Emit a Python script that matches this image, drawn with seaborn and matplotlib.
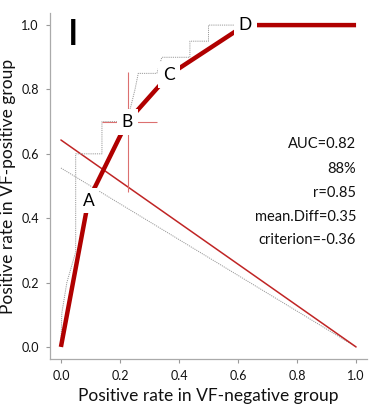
import matplotlib
matplotlib.use("Agg")
import matplotlib.pyplot as plt
import seaborn as sns
import pandas as pd
import numpy as np

sns.set_theme(style="white")
plt.rcParams['font.family'] = ['Lato', 'DejaVu Sans']

# Fitted ROC curve (thick red), points A-D
roc_fpr = [0.0, 0.093, 0.224, 0.366, 0.624, 1.0]
roc_tpr = [0.0, 0.455, 0.699, 0.845, 1.0, 1.0]
point_labels = ["A", "B", "C", "D"]
point_fpr = [0.093, 0.224, 0.366, 0.624]
point_tpr = [0.455, 0.699, 0.845, 1.0]

# Empirical ROC (gray dotted staircase)
emp_fpr = [0.0, 0.003, 0.02, 0.05, 0.05, 0.139, 0.139, 0.224, 0.251, 0.262, 0.325, 0.342, 0.437, 0.437, 0.50, 0.50, 1.0]
emp_tpr = [0.0, 0.105, 0.20, 0.295, 0.60, 0.60, 0.70, 0.70, 0.80, 0.85, 0.85, 0.90, 0.90, 0.95, 0.95, 1.0, 1.0]

# Diagonal criterion lines
red_line_x = [0.0, 1.0]
red_line_y = [0.643, 0.0]
gray_line_x = [0.0, 1.0]
gray_line_y = [0.556, 0.0]

# Confidence crosshair at B
ci_x = [0.227]
ci_y = [0.70]
ci_x_low, ci_x_high = [0.087], [0.098]
ci_y_low, ci_y_high = [0.22], [0.155]

panel_label = "I"
stats_text = ["AUC=0.82", "88%", "r=0.85", "mean.Diff=0.35", "criterion=-0.36"]
stats_y = [0.63, 0.553, 0.478, 0.404, 0.332]
ticks = [0.0, 0.2, 0.4, 0.6, 0.8, 1.0]

fig = plt.figure(figsize=(3.76, 4.12), dpi=100)
ax = fig.add_axes([0.133, 0.129, 0.843, 0.839])

sns.lineplot(x=gray_line_x, y=gray_line_y, ax=ax, color="#9a9a9a", lw=0.7,
             linestyle=(0, (1.2, 1)), sort=False, estimator=None)
sns.lineplot(x=red_line_x, y=red_line_y, ax=ax, color="#c02525", lw=1.1,
             sort=False, estimator=None)
sns.lineplot(x=emp_fpr, y=emp_tpr, ax=ax, color="#9a9a9a", lw=0.7,
             linestyle=(0, (1.2, 1)), sort=False, estimator=None)
ax.errorbar(ci_x, ci_y, xerr=[ci_x_low, ci_x_high], yerr=[ci_y_low, ci_y_high],
            fmt="none", ecolor="#dc7070", elinewidth=0.8, capsize=0)
sns.lineplot(x=roc_fpr, y=roc_tpr, ax=ax, color="#b00000", lw=3.2,
             sort=False, estimator=None, solid_capstyle="butt")

for lab, x, y in zip(point_labels, point_fpr, point_tpr):
    ax.text(x, y, lab, ha="center", va="center", fontsize=12.5, color="black",
            bbox=dict(boxstyle="square,pad=0.28", fc="white", ec="none"), zorder=5)

ax.text(0.04, 0.97, panel_label, ha="center", va="center", fontsize=26,
        fontweight="semibold", color="black")

for t, y in zip(stats_text, stats_y):
    ax.text(1.0, y, t, ha="right", va="center", fontsize=10.5, color="#111111")

ax.set_xlim(-0.037, 1.037)
ax.set_ylim(-0.037, 1.037)
ax.set_xticks(ticks)
ax.set_yticks(ticks)
ax.set_xticklabels([f"{t:.1f}" for t in ticks])
ax.set_yticklabels([f"{t:.1f}" for t in ticks])
ax.tick_params(axis="both", labelsize=9, labelcolor="#111111", length=3, width=0.8,
               color="#999999", direction="out", pad=5, bottom=True, left=True)
for s in ["top", "right"]:
    ax.spines[s].set_visible(False)
for s in ["left", "bottom"]:
    ax.spines[s].set_color("#aaaaaa")
    ax.spines[s].set_linewidth(0.9)

ax.set_xlabel("Positive rate in VF-negative group", fontsize=12.5, labelpad=4, color="#111111")
ax.set_ylabel("Positive rate in VF-positive group", fontsize=12.5, labelpad=4, color="#111111")

fig.savefig("out.png", dpi=100)
